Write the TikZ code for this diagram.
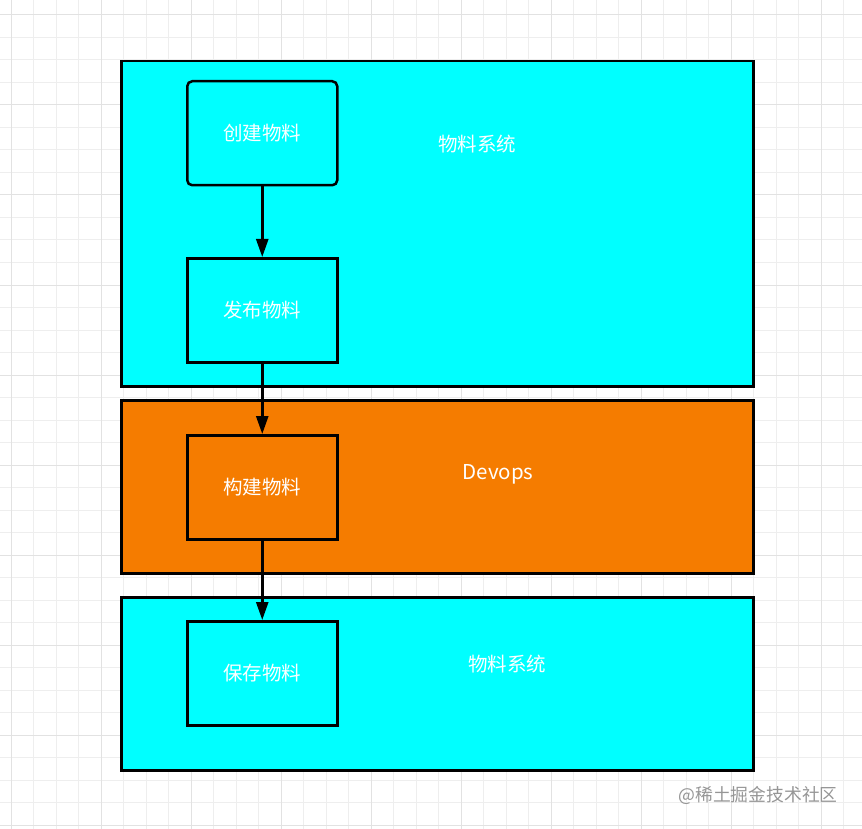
\documentclass[tikz,border=0pt]{standalone}
\usepackage{fontspec}
\setmainfont{Noto Sans CJK SC}
\usetikzlibrary{arrows.meta}
\definecolor{cyanbg}{RGB}{0,255,255}
\definecolor{orangebg}{RGB}{245,124,0}
\definecolor{gridminor}{RGB}{238,238,238}
\definecolor{gridmajor}{RGB}{226,226,226}
\definecolor{wmark}{RGB}{150,150,150}
\tikzset{
  lane/.style={draw=black, line width=2.5pt, minimum width=632pt, anchor=north west, inner sep=0pt},
  stepbox/.style={draw=black, line width=2.5pt, minimum width=150pt, minimum height=104pt, anchor=north west, inner sep=0pt, text=white, font=\fontsize{19.5pt}{22pt}\selectfont},
  lanelabel/.style={text=white, font=\fontsize{19.5pt}{22pt}\selectfont},
  flow/.style={draw=black, line width=2.5pt, -{Triangle[length=18pt,width=12pt]}}
}
\begin{document}
\begin{tikzpicture}[x=1pt,y=-1pt]
\useasboundingbox (0,0) rectangle (862,829);
\fill[white] (0,0) rectangle (862,829);
% grid
\foreach \i in {0,...,38} {
  \pgfmathsetmacro{\gx}{11+22.5*\i}
  \draw[gridminor, line width=1pt] (\gx,0) -- (\gx,829);
}
\foreach \i in {0,...,37} {
  \pgfmathsetmacro{\gy}{15+22.5*\i}
  \draw[gridminor, line width=1pt] (0,\gy) -- (862,\gy);
}
\foreach \i in {0,...,9} {
  \pgfmathsetmacro{\gx}{11+90*\i}
  \draw[gridmajor, line width=1pt] (\gx,0) -- (\gx,829);
}
\foreach \i in {0,...,9} {
  \pgfmathsetmacro{\gy}{15+90*\i}
  \draw[gridmajor, line width=1pt] (0,\gy) -- (862,\gy);
}
% lanes
\node[lane, fill=cyanbg, minimum height=325pt] (lane1) at (120,60) {};
\node[lane, fill=orangebg, minimum height=173pt] (lane2) at (120,399) {};
\node[lane, fill=cyanbg, minimum height=173pt] (lane3) at (120,596) {};
\node[lanelabel] (l1) at (477,144) {物料系统};
\node[lanelabel, font=\fontsize{20.5pt}{23pt}\selectfont] (l2) at (498,474) {Devops};
\node[lanelabel] (l3) at (507,664) {物料系统};
% steps
\node[stepbox, rounded corners=5pt] (s1) at (186,80) {创建物料};
\node[stepbox] (s2) at (186,257) {发布物料};
\node[stepbox] (s3) at (186,434) {构建物料};
\node[stepbox] (s4) at (186,620) {保存物料};
\draw[flow] (s1.south) -- (s2.north);
\draw[flow] (s2.south) -- (s3.north);
\draw[flow] (s3.south) -- (s4.north);
% watermark
\node[text=wmark, font=\fontsize{17.8pt}{20pt}\selectfont] (wm) at (758,795) {@稀土掘金技术社区};
\end{tikzpicture}
\end{document}
